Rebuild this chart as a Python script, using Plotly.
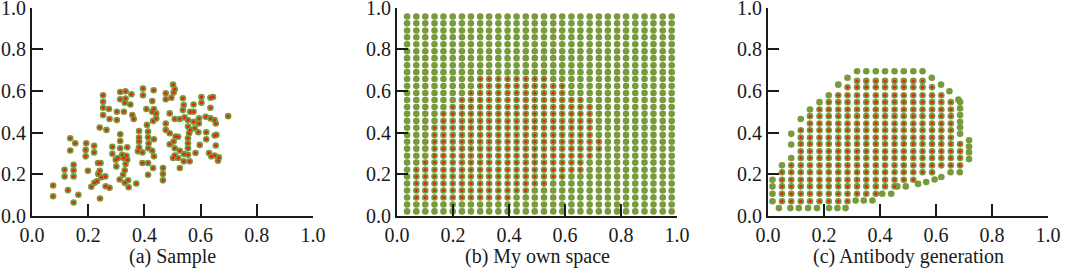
import plotly.graph_objects as go

# ---------------- data ----------------
# (a) Sample points
sample_x = [0.075,0.075,0.128,0.148,0.165,0.116,0.116,0.148,0.148,0.148,0.136,0.136,0.154,0.193,0.191,0.191,0.221,0.221,0.199,0.211,
            0.222,0.231,0.236,0.235,0.244,0.241,0.247,0.242,0.261,0.262,0.276,0.253,0.253,0.253,0.253,0.241,0.265,0.274,0.276,0.286,
            0.286,0.298,0.300,0.302,0.302,0.314,0.333,0.314,0.333,0.354,0.350,0.330,0.327,0.357,0.362,0.314,0.314,0.314,0.306,0.321,
            0.326,0.336,0.339,0.333,0.330,0.324,0.339,0.312,0.330,0.344,0.342,0.371,0.381,0.381,0.381,0.381,0.377,0.393,0.393,0.409,
            0.413,0.413,0.415,0.414,0.413,0.413,0.407,0.428,0.434,0.442,0.442,0.431,0.434,0.428,0.434,0.431,0.466,0.466,0.466,0.476,
            0.476,0.490,0.504,0.511,0.508,0.508,0.502,0.520,0.526,0.526,0.540,0.541,0.508,0.526,0.490,0.476,0.476,0.502,0.508,0.504,
            0.496,0.395,0.395,0.433,0.428,0.537,0.540,0.537,0.543,0.555,0.563,0.575,0.575,0.555,0.559,0.555,0.555,0.555,0.555,0.561,
            0.575,0.579,0.582,0.563,0.594,0.594,0.592,0.597,0.603,0.603,0.618,0.620,0.620,0.635,0.644,0.635,0.635,0.650,0.654,0.630,
            0.638,0.656,0.650,0.654,0.650,0.665,0.662,0.698,0.520,0.490]
sample_y = [0.146,0.095,0.124,0.065,0.102,0.222,0.190,0.246,0.219,0.190,0.373,0.314,0.349,0.349,0.317,0.286,0.337,0.305,0.217,0.140,
            0.159,0.167,0.202,0.254,0.254,0.217,0.186,0.084,0.190,0.143,0.135,0.579,0.548,0.519,0.484,0.424,0.413,0.513,0.465,0.332,
            0.298,0.270,0.238,0.500,0.460,0.595,0.598,0.560,0.563,0.584,0.535,0.543,0.500,0.484,0.465,0.392,0.360,0.325,0.278,0.294,
            0.278,0.289,0.270,0.249,0.219,0.198,0.330,0.175,0.159,0.138,0.171,0.156,0.408,0.376,0.357,0.329,0.310,0.305,0.254,0.437,
            0.405,0.378,0.349,0.325,0.254,0.198,0.513,0.500,0.513,0.492,0.468,0.456,0.368,0.313,0.286,0.230,0.230,0.202,0.171,0.444,
            0.413,0.344,0.357,0.381,0.325,0.290,0.278,0.278,0.230,0.313,0.262,0.297,0.465,0.465,0.492,0.589,0.560,0.630,0.608,0.592,
            0.567,0.611,0.579,0.603,0.551,0.565,0.532,0.508,0.473,0.460,0.500,0.500,0.535,0.429,0.397,0.373,0.349,0.325,0.294,0.262,
            0.452,0.421,0.302,0.413,0.468,0.444,0.402,0.341,0.571,0.543,0.476,0.402,0.368,0.567,0.571,0.519,0.468,0.460,0.444,0.302,
            0.286,0.389,0.386,0.338,0.290,0.281,0.265,0.479,0.380,0.397]

# (b) My own space: grid and self (red) region per column (row index ranges)
b_grid_x = [0.036,0.069,0.101,0.134,0.166,0.199,0.232,0.264,0.297,0.329,0.362,0.395,0.427,0.460,0.492,
            0.525,0.558,0.590,0.623,0.655,0.688,0.721,0.753,0.786,0.818,0.851,0.884,0.916,0.949,0.981]
b_grid_y = [0.022,0.055,0.089,0.122,0.156,0.189,0.222,0.256,0.289,0.323,0.356,0.389,0.423,0.456,0.490,
            0.523,0.556,0.590,0.623,0.657,0.690,0.723,0.757,0.790,0.824,0.857,0.890,0.924,0.957]
b_red_lo = [-1,2,2,2,2,2,2,2,2,2,2,2,3,3,4,4,5,5,6,6,8,9,-1,-1,-1,-1,-1,-1,-1,-1]
b_red_hi = [-1,6,7,12,14,15,16,17,19,19,19,19,19,19,19,19,18,18,16,16,15,10,-1,-1,-1,-1,-1,-1,-1,-1]

# (c) Antibody generation: interior grid (red-centred) + edge antibodies (green)
c_grid_x = [0.016,0.050,0.083,0.117,0.150,0.184,0.217,0.251,0.284,0.318,0.351,
            0.385,0.418,0.452,0.485,0.519,0.552,0.586,0.619,0.653,0.686]
c_grid_y = [0.038,0.071,0.107,0.142,0.174,0.210,0.243,0.278,0.310,0.345,0.376,
            0.411,0.444,0.479,0.511,0.546,0.579,0.617,0.648,0.694]
c_red_lo = [-1,1,1,1,1,1,1,1,1,2,2,2,3,3,4,4,5,5,6,6,6]
c_red_hi = [-1,5,6,11,13,14,15,16,17,18,18,18,18,18,18,18,18,17,16,15,9]
c_edge_x = [0.318,0.351,0.385,0.418,0.452,0.485,0.519,0.552,
            0.016,0.016,0.016,0.016,0.050,0.083,0.083,0.083,0.117,0.150,0.184,0.217,0.251,0.284,
            0.585,0.618,0.648,0.680,0.686,0.686,0.686,0.686,0.686,0.686,
            0.718,0.718,0.718,0.718,
            0.685,0.652,0.619,0.595,0.565,0.536,0.492,0.462,0.440,0.408,0.373,0.342,0.313,
            0.039,0.080,0.110,0.143,0.175,0.218,0.248,0.277]
c_edge_y = [0.694,0.694,0.694,0.694,0.694,0.694,0.694,0.694,
            0.071,0.107,0.142,0.174,0.243,0.278,0.343,0.394,0.465,0.511,0.546,0.579,0.630,0.663,
            0.663,0.630,0.598,0.558,0.547,0.516,0.484,0.452,0.425,0.394,
            0.363,0.333,0.305,0.273,
            0.210,0.210,0.187,0.175,0.163,0.154,0.142,0.142,0.107,0.107,0.074,0.074,0.074,
            0.038,0.038,0.038,0.038,0.038,0.038,0.038,0.038]

tick_vals = [0.0, 0.2, 0.4, 0.6, 0.8, 1.0]
tick_text = ["0.0", "0.2", "0.4", "0.6", "0.8", "1.0"]
subtitles = ["(a) Sample", "(b) My own space", "(c) Antibody generation"]

# ---------------- build point sets ----------------
b_all_x, b_all_y, b_red_x, b_red_y = [], [], [], []
for k, gx in enumerate(b_grid_x):
    for j, gy in enumerate(b_grid_y):
        b_all_x.append(gx); b_all_y.append(gy)
        if b_red_lo[k] >= 0 and b_red_lo[k] <= j <= b_red_hi[k]:
            b_red_x.append(gx); b_red_y.append(gy)

c_red_x, c_red_y = [], []
for k, gx in enumerate(c_grid_x):
    if c_red_lo[k] < 0:
        continue
    for j in range(c_red_lo[k], c_red_hi[k] + 1):
        c_red_x.append(gx); c_red_y.append(c_grid_y[j])

GREEN = "#779a3a"
RED = "#f01c14"
GS, RS = 6.6, 3.0

fig = go.Figure()

def add_pts(x, y, ax, red):
    fig.add_trace(go.Scatter(x=x, y=y, mode="markers", xaxis="x" + ax, yaxis="y" + ax,
                             marker=dict(color=GREEN, size=GS, line=dict(width=0)),
                             hoverinfo="skip", showlegend=False, cliponaxis=False))
    if red:
        fig.add_trace(go.Scatter(x=x, y=y, mode="markers", xaxis="x" + ax, yaxis="y" + ax,
                                 marker=dict(color=RED, size=RS, line=dict(width=0)),
                                 hoverinfo="skip", showlegend=False, cliponaxis=False))

add_pts(sample_x, sample_y, "", True)
add_pts(b_all_x, b_all_y, "2", False)
fig.add_trace(go.Scatter(x=b_red_x, y=b_red_y, mode="markers", xaxis="x2", yaxis="y2",
                         marker=dict(color=RED, size=RS, line=dict(width=0)),
                         hoverinfo="skip", showlegend=False))
add_pts(c_edge_x, c_edge_y, "3", False)
add_pts(c_red_x, c_red_y, "3", True)

W, H = 1065, 269
x_domains = [(32 / W, 313 / W), (397 / W, 677 / W), (768 / W, 1048 / W)]
y_domain = [(H - 216) / H, (H - 7.5) / H]
font = dict(family="Liberation Serif, Times New Roman, serif", size=20, color="#1a1a1a")

axis_common = dict(range=[0, 1], showgrid=False, zeroline=False, showline=True,
                   linecolor="#1a1a1a", linewidth=2, ticks="inside", tickcolor="#1a1a1a",
                   tickwidth=2, tickvals=tick_vals, ticktext=tick_text, tickfont=font,
                   ticklabeloverflow="allow", automargin=False, fixedrange=True)

layout = dict(width=W, height=H, margin=dict(l=0, r=0, t=0, b=0, autoexpand=False),
              template="none",
              paper_bgcolor="white", plot_bgcolor="rgba(0,0,0,0)", font=font,
              showlegend=False, annotations=[])
for i, (d0, d1) in enumerate(x_domains):
    sfx = "" if i == 0 else str(i + 1)
    layout["xaxis" + sfx] = dict(axis_common, domain=[d0, d1], anchor="y" + sfx, ticklen=12)
    layout["yaxis" + sfx] = dict(axis_common, domain=y_domain, anchor="x" + sfx, ticklen=11)
    layout["annotations"].append(dict(text=subtitles[i], x=(d0 + d1) / 2, y=(H - 256) / H,
                                      xref="paper", yref="paper", showarrow=False,
                                      xanchor="center", yanchor="middle", font=font))

fig.update_layout(**layout)
fig.write_html("out.html", config={"displayModeBar": False},
               post_script="document.body.style.margin='0';document.body.style.overflow='hidden';")
